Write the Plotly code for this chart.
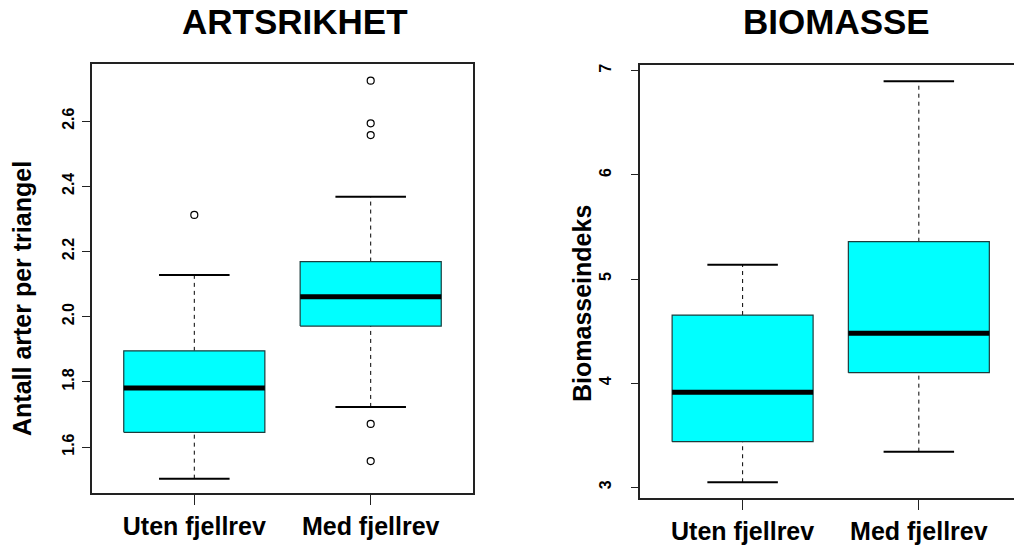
import plotly.graph_objects as go

# ---------------- data ----------------
categories = ["Uten fjellrev", "Med fjellrev"]
positions = [1, 2]

# ARTSRIKHET (species richness per triangle)
art_q1 = [1.645, 1.971]
art_median = [1.781, 2.061]
art_q3 = [1.895, 2.169]
art_low = [1.503, 1.723]
art_high = [2.128, 2.368]
art_outliers = [[2.312], [2.724, 2.593, 2.557, 1.671, 1.557]]
art_ticks = [1.6, 1.8, 2.0, 2.2, 2.4, 2.6]
art_ticktext = ["1.6", "1.8", "2.0", "2.2", "2.4", "2.6"]

# BIOMASSE (biomass index)
bio_q1 = [3.438, 4.100]
bio_median = [3.912, 4.479]
bio_q3 = [4.654, 5.358]
bio_low = [3.048, 3.342]
bio_high = [5.137, 6.898]
bio_outliers = [[], []]
bio_ticks = [3, 4, 5, 6, 7]
bio_ticktext = ["3", "4", "5", "6", "7"]

# ---------------- style ----------------
W, H = 1014, 546
BOX_W = 0.8
CAP_W = 0.4
FILL = "#00FFFF"
EDGE = "#1c3c3c"
FONT = "Liberation Sans, Arial, sans-serif"

fig = go.Figure()


def add_panel(xa, ya, q1, med, q3, low, high, outs):
    for i, c in enumerate(positions):
        l, r = c - BOX_W / 2, c + BOX_W / 2
        # whiskers (dashed)
        fig.add_trace(go.Scatter(x=[c, c], y=[q3[i], high[i]], mode="lines",
                                 line=dict(color="black", width=1, dash="4px,4px"),
                                 xaxis=xa, yaxis=ya, showlegend=False, hoverinfo="skip"))
        fig.add_trace(go.Scatter(x=[c, c], y=[low[i], q1[i]], mode="lines",
                                 line=dict(color="black", width=1, dash="4px,4px"),
                                 xaxis=xa, yaxis=ya, showlegend=False, hoverinfo="skip"))
        # caps
        for v in (low[i], high[i]):
            fig.add_trace(go.Scatter(x=[c - CAP_W / 2, c + CAP_W / 2], y=[v, v], mode="lines",
                                     line=dict(color="black", width=2),
                                     xaxis=xa, yaxis=ya, showlegend=False, hoverinfo="skip"))
        # box
        fig.add_trace(go.Scatter(x=[l, r, r, l, l], y=[q1[i], q1[i], q3[i], q3[i], q1[i]],
                                 mode="lines", fill="toself", fillcolor=FILL,
                                 line=dict(color=EDGE, width=1.2),
                                 xaxis=xa, yaxis=ya, showlegend=False, hoverinfo="skip"))
        # median
        fig.add_trace(go.Scatter(x=[l, r], y=[med[i], med[i]], mode="lines",
                                 line=dict(color="black", width=5),
                                 xaxis=xa, yaxis=ya, showlegend=False, hoverinfo="skip"))
        # outliers
        if outs[i]:
            fig.add_trace(go.Scatter(x=[c] * len(outs[i]), y=outs[i], mode="markers",
                                     marker=dict(symbol="circle-open", size=7,
                                                 color="black", line=dict(width=1.2)),
                                     xaxis=xa, yaxis=ya, showlegend=False, hoverinfo="skip"))


add_panel("x", "y", art_q1, art_median, art_q3, art_low, art_high, art_outliers)
add_panel("x2", "y2", bio_q1, bio_median, bio_q3, bio_low, bio_high, bio_outliers)

tickfont_y = dict(family=FONT, size=16, color="black", weight="bold")
tickfont_x = dict(family=FONT, size=25, color="black", weight="bold")

common_x = dict(tickvals=positions, ticktext=categories, ticks="outside", ticklen=10,
                tickwidth=1.2, tickcolor="#222", showline=True, linecolor="#222", linewidth=1.5,
                showgrid=False, zeroline=False, tickfont=tickfont_x, automargin=False,
                fixedrange=True)
common_y = dict(ticks="outside", ticklen=8, tickwidth=1.2, tickcolor="#222",
                showline=True, linecolor="#222", linewidth=1.5, showgrid=False,
                zeroline=False, tickfont=tickfont_y, tickangle=-90, automargin=False,
                fixedrange=True)

fig.update_layout(
    width=W, height=H,
    margin=dict(l=0, r=0, t=0, b=0),
    paper_bgcolor="white", plot_bgcolor="white",
    showlegend=False,
    xaxis=dict(common_x, domain=[92 / W, 473 / W], range=[0.42, 2.58], mirror=True,
               anchor="y", ticklabelstandoff=0),
    yaxis=dict(common_y, domain=[1 - 493 / H, 1 - 64 / H], range=[1.459, 2.775],
               tickvals=art_ticks, ticktext=art_ticktext, mirror=True, anchor="x",
               ticklabelstandoff=2),
    xaxis2=dict(common_x, domain=[640.4 / W, 1.0], range=[0.42, 2.54], mirror=True,
                anchor="y2", ticklabelstandoff=0),
    yaxis2=dict(common_y, domain=[1 - 498.3 / H, 1 - 64.7 / H], range=[2.894, 7.058],
                tickvals=bio_ticks, ticktext=bio_ticktext, mirror=False, anchor="x2",
                ticklabelstandoff=13),
    annotations=[
        dict(text="ARTSRIKHET", x=295 / W, y=1 - 22 / H, xref="paper", yref="paper",
             showarrow=False, xanchor="center", yanchor="middle",
             font=dict(family=FONT, size=35, color="black", weight="bold")),
        dict(text="BIOMASSE", x=836.5 / W, y=1 - 22 / H, xref="paper", yref="paper",
             showarrow=False, xanchor="center", yanchor="middle",
             font=dict(family=FONT, size=35, color="black", weight="bold")),
        dict(text="Antall arter per triangel", x=22 / W, y=1 - 299 / H, xref="paper",
             yref="paper", showarrow=False, xanchor="center", yanchor="middle",
             textangle=-90, font=dict(family=FONT, size=25, color="black", weight="bold")),
        dict(text="Biomasseindeks", x=582 / W, y=1 - 304 / H, xref="paper",
             yref="paper", showarrow=False, xanchor="center", yanchor="middle",
             textangle=-90, font=dict(family=FONT, size=25, color="black", weight="bold")),
    ],
)

fig.write_html("out.html", config={"displayModeBar": False},
               post_script="document.body.style.margin='0';")
